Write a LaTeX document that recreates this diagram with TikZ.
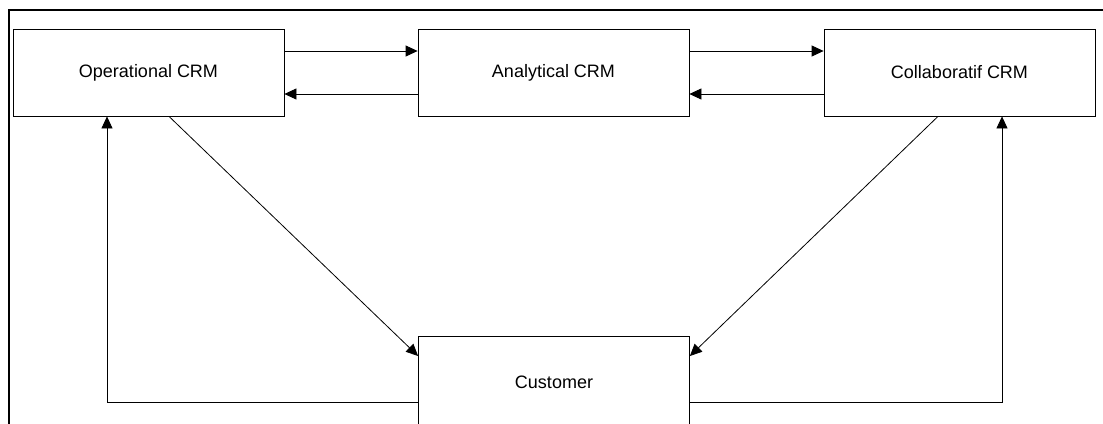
\documentclass[tikz,border=0pt]{standalone}
\usepackage{fontspec}
\setmainfont{Liberation Sans}
\usetikzlibrary{arrows.meta}

\begin{document}
\begin{tikzpicture}[x=1pt,y=-1pt]
\tikzstyle{every node}=[draw, shape=rectangle, line width=0.8pt, minimum width=271pt, minimum height=87pt, font=\fontsize{18}{20}\selectfont];
\tikzstyle{link}=[line width=0.8pt, -{Triangle[length=12pt,width=11pt]}];

\clip (0,0) rectangle (1103,423);
\fill[white] (0,0) rectangle (1103,423);

% frame
\draw[line width=2pt] (9,440) -- (9,10) -- (1110,10);

\draw (148.5,72.5) node (oper) {Operational CRM};
\draw (553.5,72.5) node (anal) {Analytical CRM};
\draw (959.5,72.5) node (coll) {Collaboratif CRM};
\draw (554,382) node[minimum height=92pt] (cust) {Customer};

\coordinate (ol) at (107,402);
\coordinate (cr) at (1002,402);

\draw[link] (oper.east |- 0,51) -- (anal.west |- 0,51);
\draw[link] (anal.west |- 0,94) -- (oper.east |- 0,94);
\draw[link] (anal.east |- 0,51) -- (coll.west |- 0,51);
\draw[link] (coll.west |- 0,94) -- (anal.east |- 0,94);

\draw[link] (oper.south -| 169,0) -- (cust.west |- 0,356);
\draw[link] (coll.south -| 938,0) -- (cust.east |- 0,356);

\draw[link] (cust.west |- ol) -- (ol) -- (oper.south -| ol);
\draw[link] (cust.east |- cr) -- (cr) -- (coll.south -| cr);

\end{tikzpicture}
\end{document}
